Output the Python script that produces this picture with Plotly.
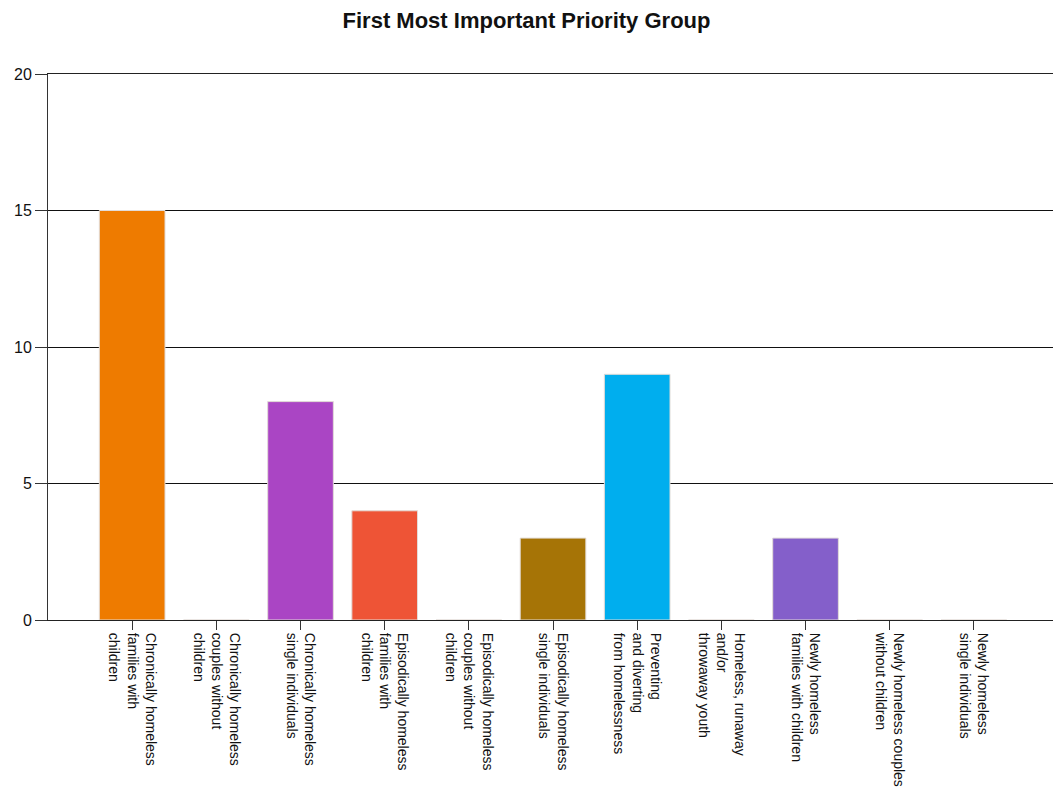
import plotly.graph_objects as go

# Survey tallies: first most important priority group
categories = [
    "Chronically homeless<br>families with<br>children",
    "Chronically homeless<br>couples without<br>children",
    "Chronically homeless<br>single individuals",
    "Episodically homeless<br>families with<br>children",
    "Episodically homeless<br>couples without<br>children",
    "Episodically homeless<br>single individuals",
    "Preventing<br>and diverting<br>from homelessness",
    "Homeless, runaway<br>and/or<br>throwaway youth",
    "Newly homeless<br>families with children",
    "Newly homeless couples<br>without children",
    "Newly homeless<br>single individuals",
]
counts = [15, 0, 8, 4, 0, 3, 9, 0, 3, 0, 0]
bar_colors = [
    "#EE7B00", "#EE7B00", "#AA45C4", "#EE5436", "#EE5436", "#A67406",
    "#00AEEE", "#00AEEE", "#845FCA", "#845FCA", "#845FCA",
]
y_ticks = [0, 5, 10, 15, 20]

fig = go.Figure(
    go.Bar(
        x=list(range(len(categories))),
        y=counts,
        width=0.78,
        marker=dict(color=bar_colors, line=dict(color="#E2DCD8", width=1)),
        hoverinfo="y",
    )
)

fig.update_layout(
    width=1053,
    height=795,
    margin=dict(l=48, r=0, t=74, b=175),
    paper_bgcolor="white",
    plot_bgcolor="white",
    font=dict(family="Liberation Sans, Arial, sans-serif", color="#111111"),
    title=dict(
        text="<b>First Most Important Priority Group</b>",
        x=0.5,
        xanchor="center",
        y=0.975,
        yanchor="middle",
        font=dict(size=22, color="#111111"),
    ),
    showlegend=False,
    bargap=0.22,
)

fig.update_xaxes(
    range=[-1, 10.94],
    tickmode="array",
    tickvals=list(range(len(categories))),
    ticktext=categories,
    tickangle=90,
    tickfont=dict(size=14, color="#111111"),
    ticks="outside",
    ticklen=9,
    tickcolor="#333333",
    showline=True,
    mirror=True,
    linecolor="#222222",
    linewidth=1,
    showgrid=False,
    zeroline=False,
)

fig.update_yaxes(
    range=[0, 20],
    tickmode="array",
    tickvals=y_ticks,
    tickfont=dict(size=16, color="#111111"),
    ticks="outside",
    ticklen=12,
    tickcolor="#333333",
    showline=True,
    linecolor="#333333",
    linewidth=1,
    showgrid=True,
    gridcolor="#111111",
    gridwidth=1,
    zeroline=False,
)

fig.write_html("out.html")
